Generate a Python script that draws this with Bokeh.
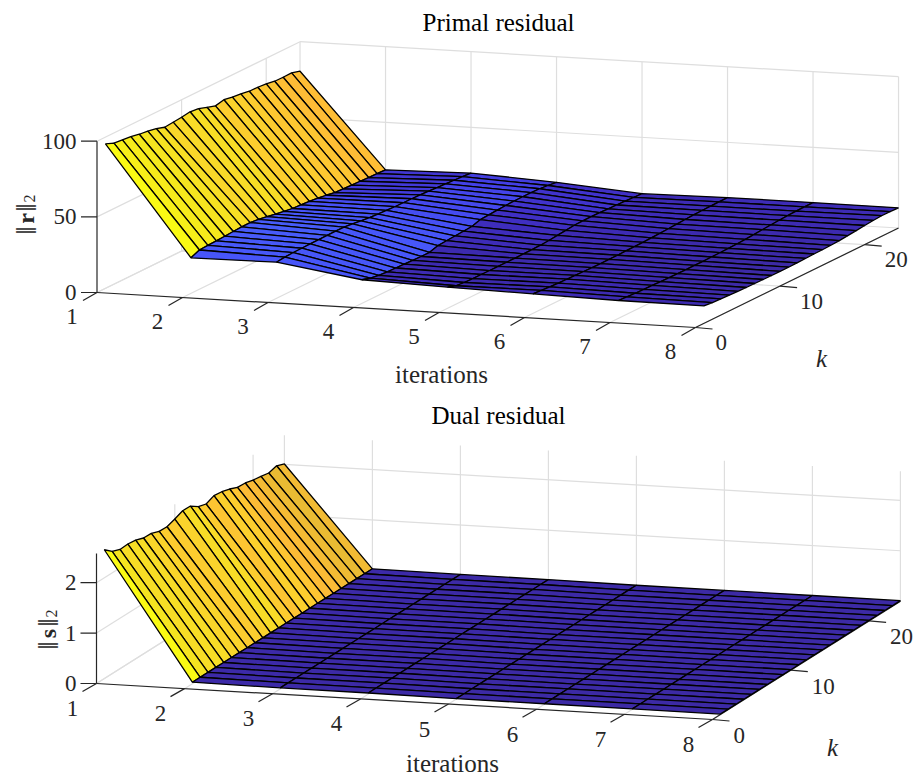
from bokeh.plotting import figure
from bokeh.layouts import column
from bokeh.models import Range1d, LinearColorMapper, ColumnDataSource
from bokeh.core.properties import value
from bokeh.embed import file_html
from bokeh.resources import INLINE
import numpy as np

iterations = [1, 2, 3, 4, 5, 6, 7, 8]
k_values = list(range(1, 25))
iter_ticks = [1, 2, 3, 4, 5, 6, 7, 8]
k_ticks = [0, 10, 20]
primal_ticks = [0, 50, 100]
dual_ticks = [0, 1, 2]

primal_iter1 = [95.5, 93.2, 92.7, 92.1, 90.9, 90.2, 89.2, 87.3, 87.9, 88.4, 89.3, 88.7, 86.8, 85.0, 86.3, 85.3, 84.7, 83.7, 83.6, 83.1, 82.1, 82.0, 82.1, 80.5]
primal_iter2 = [23.5, 25.9, 26.2, 26.5, 26.8, 27.2, 27.5, 27.6, 27.0, 26.0, 25.0, 24.0, 23.2, 22.8, 22.4, 21.8, 21.0, 20.0, 19.7, 19.5, 19.3, 19.0, 18.8, 18.6]
primal_iter3 = [23.9, 24.5, 24.8, 24.9, 25.0, 25.1, 25.2, 25.3, 25.2, 24.5, 23.8, 23.2, 22.8, 22.5, 22.2, 22.1, 22.0, 21.8, 21.5, 21.1, 20.8, 20.5, 20.2, 19.8]
primal_iter4 = [15.6, 14.0, 13.0, 12.6, 12.4, 12.2, 12.0, 11.8, 11.8, 13.5, 14.0, 14.4, 14.8, 15.2, 17.0, 17.4, 17.8, 18.1, 18.3, 18.4, 18.4, 18.2, 17.6, 17.0]
primal_iter5 = [14.0, 12.2, 11.6, 11.4, 11.4, 11.3, 11.3, 11.3, 11.3, 11.3, 11.4, 11.6, 12.0, 12.6, 13.2, 13.8, 14.0, 14.0, 13.9, 13.7, 13.5, 13.3, 13.0, 12.8]
primal_iter6 = [12.9, 12.4, 12.0, 11.8, 11.6, 11.4, 11.2, 11.1, 11.0, 11.0, 11.0, 11.1, 11.2, 11.3, 11.5, 11.8, 12.1, 12.4, 12.7, 13.0, 13.2, 13.3, 13.4, 13.5]
primal_iter7 = [11.8, 11.4, 11.1, 10.9, 10.8, 10.6, 10.5, 10.4, 10.3, 10.3, 10.3, 10.4, 10.5, 10.6, 10.8, 11.1, 11.5, 12.0, 12.4, 12.8, 13.1, 13.3, 13.4, 13.5]
primal_iter8 = [11.5, 11.0, 10.7, 10.4, 10.2, 10.0, 9.9, 9.8, 9.7, 9.7, 9.7, 9.8, 10.0, 10.2, 10.3, 10.5, 10.8, 11.4, 12.0, 12.6, 13.2, 13.6, 13.6, 13.3]

dual_iter1 = [2.556, 2.425, 2.367, 2.376, 2.357, 2.30, 2.293, 2.235, 2.23, 2.285, 2.352, 2.347, 2.236, 2.192, 2.26, 2.24, 2.196, 2.13, 2.12, 2.08, 2.055, 2.025, 2.07, 2.008]
dual_iter2 = [0.03, 0.03, 0.03, 0.03, 0.03, 0.03, 0.03, 0.03, 0.03, 0.03, 0.03, 0.03, 0.03, 0.03, 0.03, 0.03, 0.03, 0.03, 0.03, 0.03, 0.03, 0.03, 0.03, 0.03]
dual_iter3 = [0.02, 0.02, 0.02, 0.02, 0.02, 0.02, 0.02, 0.02, 0.02, 0.02, 0.02, 0.02, 0.02, 0.02, 0.02, 0.02, 0.02, 0.02, 0.02, 0.02, 0.02, 0.02, 0.02, 0.02]
dual_iter4 = [0.02, 0.02, 0.02, 0.02, 0.02, 0.02, 0.02, 0.02, 0.02, 0.02, 0.02, 0.02, 0.02, 0.02, 0.02, 0.02, 0.02, 0.02, 0.02, 0.02, 0.02, 0.02, 0.02, 0.02]
dual_iter5 = [0.01, 0.01, 0.01, 0.01, 0.01, 0.01, 0.01, 0.01, 0.01, 0.01, 0.01, 0.01, 0.01, 0.01, 0.01, 0.01, 0.01, 0.01, 0.01, 0.01, 0.01, 0.01, 0.01, 0.01]
dual_iter6 = [0.01, 0.01, 0.01, 0.01, 0.01, 0.01, 0.01, 0.01, 0.01, 0.01, 0.01, 0.01, 0.01, 0.01, 0.01, 0.01, 0.01, 0.01, 0.01, 0.01, 0.01, 0.01, 0.01, 0.01]
dual_iter7 = [0.01, 0.01, 0.01, 0.01, 0.01, 0.01, 0.01, 0.01, 0.01, 0.01, 0.01, 0.01, 0.01, 0.01, 0.01, 0.01, 0.01, 0.01, 0.01, 0.01, 0.01, 0.01, 0.01, 0.01]
dual_iter8 = [0.01, 0.01, 0.01, 0.01, 0.01, 0.01, 0.01, 0.01, 0.01, 0.01, 0.01, 0.01, 0.01, 0.01, 0.01, 0.01, 0.01, 0.01, 0.01, 0.01, 0.01, 0.01, 0.01, 0.01]

# colour map: (fraction, r, g, b)
cmap_frac = [0.0, 0.03, 0.09, 0.13, 0.16, 0.20, 0.50, 0.70, 0.78, 0.84, 0.87, 0.92, 0.96, 1.0]
cmap_r = [60, 61, 64, 68, 71, 72, 20, 190, 228, 255, 253, 248, 245, 250]
cmap_g = [42, 43, 48, 66, 85, 90, 190, 190, 187, 187, 203, 220, 232, 250]
cmap_b = [165, 178, 197, 232, 248, 250, 180, 60, 50, 55, 48, 40, 30, 20]
grid_t = np.linspace(0, 1, 256)
palette = ["#%02x%02x%02x" % (int(np.interp(t, cmap_frac, cmap_r)), int(np.interp(t, cmap_frac, cmap_g)), int(np.interp(t, cmap_frac, cmap_b))) for t in grid_t]

FONT = value("Liberation Serif")
TICK = "#262626"
GRID = "#dedede"
K_MAX = 24
FS = "23px"
LS = "25px"


def panel(rows, z_ticks, z_top, top, bottom, origin, iter_step, k_step, z_scale,
          iter_off, k_off, z_lab_x, title, title_xy, xlabel_xy, k_xy, letter, ylabel_xy):
    p = figure(width=913, height=bottom - top, x_range=Range1d(0, 913), y_range=Range1d(bottom, top),
               output_backend="svg", toolbar_location=None, x_axis_location=None, y_axis_location=None,
               min_border=0, outline_line_color=None)
    p.grid.visible = False

    def proj(i, k, z):
        return (origin[0] + iter_step[0] * (i - 1) + k_step[0] * k,
                origin[1] + iter_step[1] * (i - 1) + k_step[1] * k - z_scale * z)

    def seg(a, b, color, w=1.2):
        p.line([a[0], b[0]], [a[1], b[1]], line_color=color, line_width=w)

    i0, i1 = iter_ticks[0], iter_ticks[-1]
    # grid: floor, left wall, back wall
    for i in iter_ticks:
        seg(proj(i, 0, 0), proj(i, K_MAX, 0), GRID)
        seg(proj(i, K_MAX, 0), proj(i, K_MAX, z_top), GRID)
    for k in k_ticks[1:]:
        seg(proj(i0, k, 0), proj(i1, k, 0), GRID)
        seg(proj(i0, k, 0), proj(i0, k, z_top), GRID)
    for z in z_ticks:
        seg(proj(i0, 0, z), proj(i0, K_MAX, z), GRID)
        seg(proj(i0, K_MAX, z), proj(i1, K_MAX, z), GRID)

    # axes
    seg(proj(i0, 0, 0), proj(i1, 0, 0), TICK)
    seg(proj(i0, 0, 0), proj(i0, 0, z_top), TICK)
    seg(proj(i1, 0, 0), proj(i1, K_MAX, 0), TICK)
    lab_x, lab_y, lab_t = [], [], []
    for i in iter_ticks:
        a = proj(i, 0, 0)
        seg(a, (a[0] - 14, a[1] + 8), TICK)
        lab_x.append(a[0] + iter_off[0]); lab_y.append(a[1] + iter_off[1]); lab_t.append(str(i))
    p.text(lab_x, lab_y, text=lab_t, text_font=FONT, text_font_size=FS, text_color=TICK,
           text_align="center", text_baseline="middle")
    lab_x, lab_y, lab_t = [], [], []
    for k in k_ticks:
        a = proj(i1, k, 0)
        seg(a, (a[0] + 17, a[1] + 1.5), TICK)
        lab_x.append(a[0] + k_off[0]); lab_y.append(a[1] + k_off[1]); lab_t.append(str(k))
    p.text(lab_x, lab_y, text=lab_t, text_font=FONT, text_font_size=FS, text_color=TICK,
           text_align="left", text_baseline="middle")
    lab_x, lab_y, lab_t = [], [], []
    for z in z_ticks:
        a = proj(i0, 0, z)
        seg(a, (a[0] - 16, a[1]), TICK)
        lab_x.append(z_lab_x); lab_y.append(a[1]); lab_t.append(str(z))
    p.text(lab_x, lab_y, text=lab_t, text_font=FONT, text_font_size=FS, text_color=TICK,
           text_align="right", text_baseline="middle")

    # surface, painted back to front
    zs = np.array(rows)
    mapper = LinearColorMapper(palette=palette, low=zs.min(), high=zs.max())
    xs, ys, cs = [], [], []
    for kj in range(len(k_values) - 2, -1, -1):
        for ii in range(len(iterations) - 1):
            corners = [(ii, kj), (ii + 1, kj), (ii + 1, kj + 1), (ii, kj + 1)]
            pts = [proj(iterations[a], k_values[b], zs[a, b]) for a, b in corners]
            xs.append([q[0] for q in pts]); ys.append([q[1] for q in pts]); cs.append(zs[ii, kj])
    src = ColumnDataSource(dict(xs=xs, ys=ys, c=cs))
    p.patches("xs", "ys", source=src, fill_color={"field": "c", "transform": mapper},
              line_color="#000000", line_width=1.3)

    # labels
    p.text([title_xy[0]], [title_xy[1]], text=[title], text_font=FONT, text_font_size=LS, text_color="#000000",
           text_align="center", text_baseline="middle")
    p.text([xlabel_xy[0]], [xlabel_xy[1]], text=["iterations"], text_font=FONT, text_font_size=LS, text_color=TICK,
           text_align="center", text_baseline="middle")
    p.text([k_xy[0]], [k_xy[1]], text=["k"], text_font=FONT, text_font_size=LS, text_color=TICK,
           text_font_style="italic", text_align="center", text_baseline="middle")
    # y label, a rotated norm with bold letter and small subscript, written bottom to top
    ux, uy = ylabel_xy
    rot = np.pi / 2
    p.text([ux], [uy + 13], text=["‖"], text_font=FONT, text_font_size="30px", text_color=TICK,
           text_align="center", text_baseline="middle", angle=rot)
    p.text([ux], [uy + 1], text=[letter], text_font=FONT, text_font_size="24px", text_color=TICK,
           text_font_style="bold", text_align="center", text_baseline="middle", angle=rot)
    p.text([ux], [uy - 10], text=["‖"], text_font=FONT, text_font_size="30px", text_color=TICK,
           text_align="center", text_baseline="middle", angle=rot)
    p.text([ux + 4], [uy - 19], text=["2"], text_font=FONT, text_font_size="16px", text_color=TICK,
           text_align="center", text_baseline="middle", angle=rot)
    return p


primal_rows = [primal_iter1, primal_iter2, primal_iter3, primal_iter4, primal_iter5, primal_iter6, primal_iter7, primal_iter8]
dual_rows = [dual_iter1, dual_iter2, dual_iter3, dual_iter4, dual_iter5, dual_iter6, dual_iter7, dual_iter8]

p1 = panel(primal_rows, primal_ticks, 100, 0, 401, (96.5, 292), (85.5, 5.0), (8.46, -4.146), 1.513,
           (-25, 24), (20, 15), 76, "Primal residual", (498, 22), (441, 374), (821, 358), "r", (25, 217))
p2 = panel(dual_rows, dual_ticks, 2.58, 401, 777, (96, 683), (88, 5.14), (7.83, -4.93), 50.4,
           (-24, 25), (21, 16), 76, "Dual residual", (498, 415), (452, 763), (832, 747), "s", (47, 632))

page = column(p1, p2)
open("out.html", "w").write(file_html(page, INLINE))
